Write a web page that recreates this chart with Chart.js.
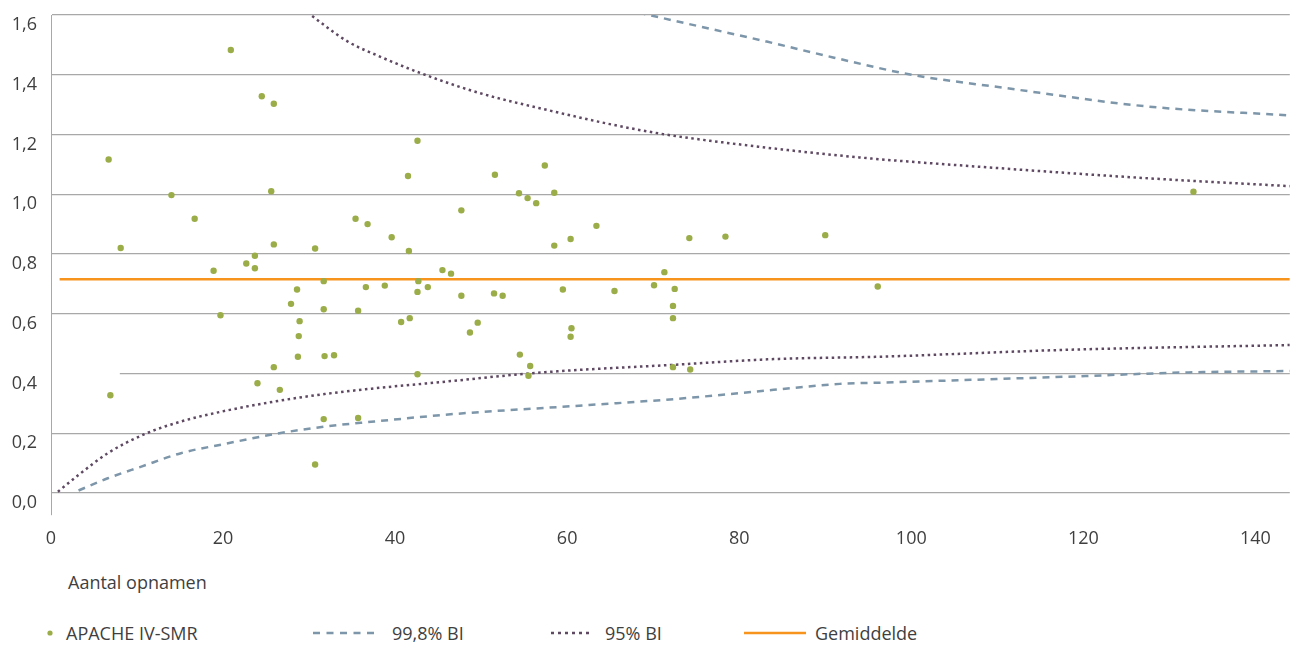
<!DOCTYPE html>
<html>
<head>
<meta charset="utf-8">
<script src="https://cdn.jsdelivr.net/npm/chart.js@4.4.1/dist/chart.umd.min.js"></script>
<style>
  html, body { margin: 0; padding: 0; background: #ffffff; }
  #wrap { position: relative; width: 1293px; height: 648px; overflow: hidden; font-family: "Open Sans", sans-serif; color: #3f3f3f; }
  #c { position: absolute; left: 0; top: 0; }
  .txt { position: absolute; font-size: 18px; line-height: 22px; white-space: nowrap; color: #3f3f3f; }
  .sw { position: absolute; }
</style>
</head>
<body>
<div id="wrap">
  <canvas id="c" width="1293" height="560"></canvas>
  <div class="txt" id="xTitle" style="left:68px; top:571px;"></div>
  <div id="legend"></div>
</div>
<script>
// ---------- Data ----------
const xTickStep = 20;
const yTickStep = 0.2;
const xAxisTitle = "Aantal opnamen";

const seriesLabels = ["APACHE IV-SMR", "99,8% BI", "95% BI", "Gemiddelde"];

// APACHE IV-SMR per hospital: number of admissions (x) and SMR (y)
const smrN = [6.7, 8.1, 14.0, 16.7, 20.9, 24.5, 25.9, 25.6, 25.9, 30.7,
              23.7, 18.9, 22.7, 23.7, 31.7, 28.6, 27.9, 19.7, 31.7, 28.9,
              28.8, 28.7, 31.8, 32.9, 25.9, 24.0, 26.6, 6.9, 31.7, 30.7,
              42.6, 41.5, 51.6, 57.4, 54.4, 55.4, 56.4, 58.5, 35.4, 36.8,
              47.7, 39.6, 41.6, 63.4, 58.5, 60.4, 74.2, 45.5, 46.5, 42.7,
              36.6, 38.8, 43.8, 42.6, 47.7, 51.5, 52.5, 59.5, 65.5, 71.3,
              70.1, 72.5, 72.3, 72.3, 35.7, 40.7, 41.7, 49.6, 48.7, 60.5,
              60.4, 54.5, 55.7, 55.5, 42.6, 72.3, 74.3, 78.4, 90.0, 96.1,
              132.8, 35.7];
const smrValue = [1.116, 0.820, 0.997, 0.918, 1.483, 1.328, 1.303, 1.010, 0.832, 0.818,
                  0.794, 0.744, 0.768, 0.752, 0.709, 0.681, 0.633, 0.595, 0.615, 0.575,
                  0.525, 0.456, 0.458, 0.461, 0.421, 0.367, 0.345, 0.327, 0.247, 0.095,
                  1.179, 1.061, 1.065, 1.096, 1.003, 0.987, 0.970, 1.005, 0.918, 0.900,
                  0.946, 0.856, 0.810, 0.894, 0.828, 0.850, 0.853, 0.746, 0.734, 0.709,
                  0.689, 0.694, 0.689, 0.673, 0.660, 0.668, 0.660, 0.681, 0.676, 0.739,
                  0.695, 0.683, 0.626, 0.585, 0.610, 0.572, 0.585, 0.570, 0.537, 0.551,
                  0.523, 0.463, 0.425, 0.392, 0.397, 0.421, 0.413, 0.858, 0.863, 0.691,
                  1.008, 0.251];

// 99.8% control limits
const ci998UpperN   = [68.3, 75.5, 83.2, 90.9, 100.2, 110.3, 127.7, 144];
const ci998UpperVal = [1.608, 1.561, 1.511, 1.458, 1.399, 1.358, 1.293, 1.264];
const ci998LowerN   = [3.2, 6.6, 10.5, 15.1, 20.2, 26.0, 31.8, 37.6, 46.8, 60.8, 72.4, 84.0, 91.7, 96.4, 118.0, 131.5, 144];
const ci998LowerVal = [0.008, 0.049, 0.088, 0.133, 0.164, 0.197, 0.222, 0.239, 0.264, 0.291, 0.314, 0.345, 0.365, 0.369, 0.389, 0.403, 0.408];

// 95% control limits
const ci95UpperN   = [29.8, 34.5, 38.3, 43.0, 49.9, 57.7, 65.4, 71.2, 76.6, 92.9, 110.3, 127.7, 144];
const ci95UpperVal = [1.608, 1.511, 1.460, 1.405, 1.338, 1.282, 1.232, 1.201, 1.179, 1.126, 1.087, 1.053, 1.027];
const ci95LowerN   = [0.8, 3.2, 6.6, 10.9, 15.1, 19.8, 26.0, 31.8, 37.6, 45.3, 56.9, 72.4, 84.0, 96.4, 118.0, 144];
const ci95LowerVal = [0.004, 0.060, 0.133, 0.197, 0.239, 0.272, 0.306, 0.331, 0.350, 0.371, 0.403, 0.429, 0.448, 0.456, 0.479, 0.495];

// Mean SMR
const meanN = [1, 144];
const meanValue = [0.715, 0.715];

// Axis ranges
const xMin = 0, xMax = 144;
const yMin = -0.074, yMax = 1.6;

// The 0,4 gridline in the original is interrupted at its left end (up to ~8 admissions)
const gridGapValue = 0.4;
const gridGapEndN = 8.0;

// ---------- Styles ----------
const colGreen = "#9aad48";
const colBlue = "#7d96a9";
const colPurple = "#5e4862";
const colOrange = "#f7941d";
const colGrid = "#a8a8a8";
const colText = "#3f3f3f";
const dash998 = [7, 6];
const dash95 = [2.5, 3.5];

const pts = (xs, ys) => xs.map((x, i) => ({ x: x, y: ys[i] }));
const fmt = v => v.toFixed(1).replace('.', ',');

document.getElementById('xTitle').textContent = xAxisTitle;

const gridGapPlugin = {
  id: 'gridGap',
  beforeDatasetsDraw(chart) {
    const { ctx, chartArea, scales } = chart;
    const y = scales.y.getPixelForValue(gridGapValue);
    const x1 = scales.x.getPixelForValue(gridGapEndN);
    ctx.save();
    ctx.fillStyle = '#ffffff';
    ctx.fillRect(chartArea.left + 1, y - 2, x1 - chartArea.left - 1, 4);
    ctx.restore();
  }
};

const chart = new Chart(document.getElementById('c'), {
  data: {
    datasets: [
      { type: 'scatter', label: seriesLabels[0], data: pts(smrN, smrValue),
        pointRadius: 3.2, pointHoverRadius: 3.2, backgroundColor: colGreen, borderWidth: 0 },
      { type: 'line', label: seriesLabels[3], data: pts(meanN, meanValue),
        borderColor: colOrange, borderWidth: 2.5, pointRadius: 0, fill: false },
      { type: 'line', label: seriesLabels[1], data: pts(ci998UpperN, ci998UpperVal),
        borderColor: colBlue, borderWidth: 2.5, borderDash: dash998, pointRadius: 0, fill: false, cubicInterpolationMode: 'monotone' },
      { type: 'line', label: seriesLabels[1] + ' ', data: pts(ci998LowerN, ci998LowerVal),
        borderColor: colBlue, borderWidth: 2.5, borderDash: dash998, pointRadius: 0, fill: false, cubicInterpolationMode: 'monotone' },
      { type: 'line', label: seriesLabels[2], data: pts(ci95UpperN, ci95UpperVal),
        borderColor: colPurple, borderWidth: 2.5, borderDash: dash95, pointRadius: 0, fill: false, cubicInterpolationMode: 'monotone' },
      { type: 'line', label: seriesLabels[2] + ' ', data: pts(ci95LowerN, ci95LowerVal),
        borderColor: colPurple, borderWidth: 2.5, borderDash: dash95, pointRadius: 0, fill: false, cubicInterpolationMode: 'monotone' }
    ]
  },
  plugins: [gridGapPlugin],
  options: {
    responsive: false,
    animation: false,
    events: [],
    layout: { padding: { top: 15, right: 3, left: 0, bottom: 0 } },
    plugins: { legend: { display: false }, tooltip: { enabled: false } },
    scales: {
      x: {
        type: 'linear', min: xMin, max: xMax,
        grid: { display: false, drawTicks: false },
        border: { display: false },
        ticks: { stepSize: xTickStep, includeBounds: false, padding: 13,
                 color: colText, font: { family: 'Open Sans', size: 18 },
                 callback: v => String(v) },
        afterFit: s => { s.height = 45; s.paddingLeft = 0; s.paddingRight = 0; }
      },
      y: {
        type: 'linear', min: yMin, max: yMax,
        grid: { color: colGrid, lineWidth: 1.2, drawTicks: false },
        border: { display: true, color: colGrid, width: 1 },
        ticks: { stepSize: yTickStep, includeBounds: false, padding: 14, labelOffset: 10,
                 color: colText, font: { family: 'Open Sans', size: 18 },
                 callback: v => fmt(v) },
        afterFit: s => { s.width = 51; s.paddingTop = 0; s.paddingBottom = 0; }
      }
    }
  }
});

// ---------- HTML legend built from series labels ----------
const legend = document.getElementById('legend');
function addText(t, left) {
  const d = document.createElement('div');
  d.className = 'txt'; d.style.left = left + 'px'; d.style.top = '622px';
  d.textContent = t; legend.appendChild(d);
}
function addLine(left, width, color, dash, thick) {
  const s = document.createElementNS('http://www.w3.org/2000/svg', 'svg');
  s.setAttribute('class', 'sw');
  s.setAttribute('width', width); s.setAttribute('height', 8);
  s.style.left = left + 'px'; s.style.top = '629px';
  const l = document.createElementNS('http://www.w3.org/2000/svg', 'line');
  l.setAttribute('x1', 0); l.setAttribute('x2', width);
  l.setAttribute('y1', 4); l.setAttribute('y2', 4);
  l.setAttribute('stroke', color); l.setAttribute('stroke-width', thick);
  if (dash) l.setAttribute('stroke-dasharray', dash.join(' '));
  s.appendChild(l); legend.appendChild(s);
}
// marker for scatter
(function () {
  const s = document.createElementNS('http://www.w3.org/2000/svg', 'svg');
  s.setAttribute('class', 'sw'); s.setAttribute('width', 8); s.setAttribute('height', 8);
  s.style.left = '46px'; s.style.top = '629px';
  const c = document.createElementNS('http://www.w3.org/2000/svg', 'circle');
  c.setAttribute('cx', 4); c.setAttribute('cy', 4); c.setAttribute('r', 2.6);
  c.setAttribute('fill', colGreen); s.appendChild(c); legend.appendChild(s);
})();
addText(seriesLabels[0], 66);
addLine(313, 61, colBlue, [7, 6.5], 2.5);
addText(seriesLabels[1], 392);
addLine(551, 40, colPurple, [3, 4], 2.5);
addText(seriesLabels[2], 605);
addLine(744, 62, colOrange, null, 2.5);
addText(seriesLabels[3], 815);
</script>
</body>
</html>
